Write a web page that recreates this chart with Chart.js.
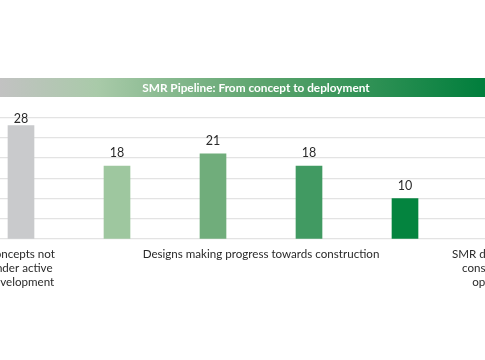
<!DOCTYPE html>
<html>
<head>
<meta charset="utf-8">
<script src="https://cdn.jsdelivr.net/npm/chart.js@4/dist/chart.umd.min.js"></script>
<style>
  html, body { margin: 0; padding: 0; background: #ffffff; overflow: hidden; width: 485px; height: 360px; }
  #wrap { position: relative; width: 485px; height: 360px; overflow: hidden; }
  #c { position: absolute; left: -27px; top: 0; }
</style>
</head>
<body>
<div id="wrap"><canvas id="c" width="576" height="360"></canvas></div>
<script>
// ---- data ----
const titleText = 'SMR Pipeline: From concept to deployment';
const categories = ['Concepts not under active development', 'Design group 1', 'Design group 2', 'Design group 3', 'Design group 4', 'SMR designs under construction or operational'];
const values = [28, 18, 21, 18, 10, null];
const barColors = ['#c9cacc', '#9ec79f', '#70ad7b', '#419a62', '#04843f', '#04843f'];
const groupLabels = [
  ['Concepts not', 'under active', 'development'],
  ['Designs making progress towards construction'],
  ['SMR designs under', 'construction or', 'operational']
];
const groupFirst = [0, 1, 5];
const groupLast = [0, 4, 5];
const yTicks = [0, 5, 10, 15, 20, 25, 30];

const FONT = 'Lato, "Open Sans", sans-serif';
const VIEW_SHIFT = 27; // canvas is shifted left inside the 485px view

const bannerPlugin = {
  id: 'banner',
  beforeDraw(chart) {
    const ctx = chart.ctx;
    const x0 = VIEW_SHIFT, x1 = VIEW_SHIFT + 485;
    const g = ctx.createLinearGradient(x0, 0, x1, 0);
    g.addColorStop(0, '#c2c2c2');
    g.addColorStop(0.2, '#a9caa9');
    g.addColorStop(0.55, '#5aa36c');
    g.addColorStop(1, '#007e3c');
    ctx.save();
    ctx.fillStyle = g;
    ctx.fillRect(0, 78, chart.width, 19);
    ctx.fillStyle = '#ffffff';
    ctx.font = 'bold 11.8px ' + FONT;
    ctx.textAlign = 'center';
    ctx.textBaseline = 'middle';
    ctx.fillText(titleText, VIEW_SHIFT + 256, 88);
    ctx.restore();
  }
};

const labelPlugin = {
  id: 'labels',
  afterDraw(chart) {
    const ctx = chart.ctx;
    const xs = chart.scales.x;
    const area = chart.chartArea;
    const meta = chart.getDatasetMeta(0);
    ctx.save();
    ctx.fillStyle = '#2a2a2a';
    ctx.textAlign = 'center';
    // value labels
    ctx.font = '12.5px ' + FONT;
    ctx.textBaseline = 'alphabetic';
    meta.data.forEach((bar, i) => {
      if (values[i] == null) return;
      const y = Math.max(bar.y - 9, area.top + 5.5);
      ctx.fillText(String(values[i]), bar.x, y);
    });
    // category group labels
    ctx.font = '11.6px ' + FONT;
    groupLabels.forEach((lines, gi) => {
      const x = (xs.getPixelForValue(groupFirst[gi]) + xs.getPixelForValue(groupLast[gi])) / 2;
      lines.forEach((ln, li) => {
        ctx.fillText(ln, x, area.bottom + 19 + li * 14.2);
      });
    });
    ctx.restore();
  }
};

new Chart(document.getElementById('c'), {
  type: 'bar',
  data: {
    labels: categories,
    datasets: [{
      data: values,
      backgroundColor: barColors,
      borderWidth: 0,
      barThickness: 26
    }]
  },
  options: {
    responsive: false,
    animation: false,
    devicePixelRatio: 1,
    layout: { padding: { top: 117.5, bottom: 121, left: 0, right: 0 } },
    plugins: { legend: { display: false }, tooltip: { enabled: false }, title: { display: false } },
    scales: {
      x: { display: false, offset: true },
      y: {
        min: 0, max: 30,
        display: true,
        afterBuildTicks(axis) { axis.ticks = yTicks.map(v => ({ value: v })); },
        ticks: { display: false },
        border: { display: false },
        grid: { color: '#e3e3e3', lineWidth: 1.3, drawTicks: false }
      }
    }
  },
  plugins: [bannerPlugin, labelPlugin]
});
</script>
</body>
</html>
